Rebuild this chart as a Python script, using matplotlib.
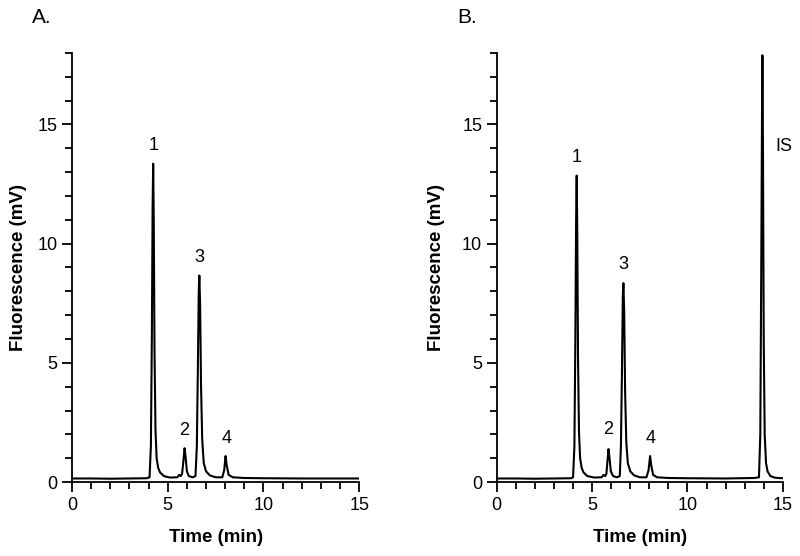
import matplotlib
matplotlib.use('Agg')
import matplotlib.pyplot as plt
from matplotlib.ticker import MultipleLocator

plt.rcParams['font.family'] = ['Liberation Sans', 'DejaVu Sans']

# Trace A: time (min) and fluorescence (mV)
A_time = [0.0, 1.0, 2.0, 3.0, 3.9, 4.05, 4.12, 4.17, 4.21, 4.24, 4.27, 4.31, 4.36, 4.42,
          4.5, 4.6, 4.8, 5.1, 5.5, 5.6, 5.68, 5.75, 5.82, 5.88, 5.94, 6.0, 6.1, 6.3,
          6.45, 6.52, 6.57, 6.62, 6.65, 6.69, 6.74, 6.8, 6.88, 7.0, 7.2, 7.5, 7.85,
          7.95, 8.02, 8.08, 8.18, 8.4, 9.0, 10.0, 12.0, 15.0]
A_signal = [0.15, 0.15, 0.14, 0.15, 0.16, 0.2, 1.5, 6.0, 11.5, 13.35, 11.0, 5.5, 2.2, 1.0,
            0.6, 0.4, 0.25, 0.19, 0.2, 0.3, 0.25, 0.35, 0.9, 1.42, 1.0, 0.45, 0.25, 0.2,
            0.25, 1.5, 4.5, 8.0, 8.66, 7.5, 4.0, 1.8, 0.8, 0.45, 0.28, 0.2, 0.2,
            0.5, 1.09, 0.7, 0.3, 0.2, 0.17, 0.16, 0.15, 0.15]

# Trace B: same compounds plus internal standard (IS)
B_time = [0.0, 1.0, 2.0, 3.0, 3.9, 4.0, 4.07, 4.12, 4.16, 4.19, 4.22, 4.26, 4.31, 4.37,
          4.45, 4.55, 4.75, 5.1, 5.5, 5.6, 5.68, 5.75, 5.8, 5.86, 5.92, 5.98, 6.1, 6.3,
          6.45, 6.51, 6.56, 6.61, 6.64, 6.68, 6.73, 6.79, 6.87, 7.0, 7.2, 7.5, 7.85,
          7.96, 8.04, 8.1, 8.2, 8.4, 9.0, 10.0, 12.0, 13.5, 13.75, 13.82, 13.87, 13.91,
          13.93, 13.96, 14.0, 14.05, 14.12, 14.2, 14.35, 14.6, 15.0]
B_signal = [0.15, 0.15, 0.14, 0.15, 0.16, 0.2, 1.5, 6.0, 11.0, 12.85, 10.5, 5.2, 2.1, 1.0,
            0.6, 0.4, 0.25, 0.19, 0.2, 0.3, 0.25, 0.35, 0.85, 1.38, 0.95, 0.45, 0.25, 0.2,
            0.25, 1.5, 4.4, 7.8, 8.34, 7.2, 3.8, 1.7, 0.8, 0.45, 0.28, 0.2, 0.2,
            0.5, 1.09, 0.7, 0.3, 0.2, 0.17, 0.16, 0.15, 0.17, 0.2, 2.0, 9.0, 15.5,
            17.9, 14.0, 6.0, 2.0, 0.8, 0.45, 0.25, 0.18, 0.16]

# Peak labels: (text, time, height)
A_labels = [('1', 4.24, 13.75), ('2', 5.88, 1.8), ('3', 6.65, 9.05), ('4', 8.05, 1.45)]
B_labels = [('1', 4.19, 13.25), ('2', 5.86, 1.85), ('3', 6.63, 8.75), ('4', 8.06, 1.45),
            ('IS', 14.6, 13.7)]

fig = plt.figure(figsize=(8, 5.56), dpi=100)
ax_a = fig.add_axes([0.09, 0.133, 0.359, 0.772])
ax_b = fig.add_axes([0.621, 0.133, 0.3575, 0.772])

for ax, t, s, labels, panel, px, ylx in [(ax_a, A_time, A_signal, A_labels, 'A.', 0.04, -0.155),
                                         (ax_b, B_time, B_signal, B_labels, 'B.', 0.571, -0.18)]:
    ax.plot(t, s, color='black', lw=1.5)
    ax.set_xlim(0, 15)
    ax.set_ylim(0, 18)
    ax.spines['top'].set_visible(False)
    ax.spines['right'].set_visible(False)
    ax.spines['left'].set_linewidth(1.3)
    ax.spines['bottom'].set_linewidth(1.3)
    ax.xaxis.set_major_locator(MultipleLocator(5))
    ax.xaxis.set_minor_locator(MultipleLocator(1))
    ax.yaxis.set_major_locator(MultipleLocator(5))
    ax.yaxis.set_minor_locator(MultipleLocator(1))
    ax.tick_params(which='major', length=7, width=1.3, labelsize=13, direction='out')
    ax.tick_params(which='minor', length=5, width=1.3, direction='out')
    ax.set_xlabel('Time (min)', fontsize=13.5, fontweight='bold')
    ax.set_ylabel('Fluorescence (mV)', fontsize=13.5, fontweight='bold')
    ax.xaxis.set_label_coords(0.5, -0.11)
    ax.yaxis.set_label_coords(ylx, 0.5)
    for txt, x, y in labels:
        ha = 'left' if txt == 'IS' else 'center'
        ax.text(x, y, txt, ha=ha, va='bottom', fontsize=13)
    fig.text(px, 0.968, panel, fontsize=15, ha='left', va='center')

fig.savefig('out.png', dpi=100)
